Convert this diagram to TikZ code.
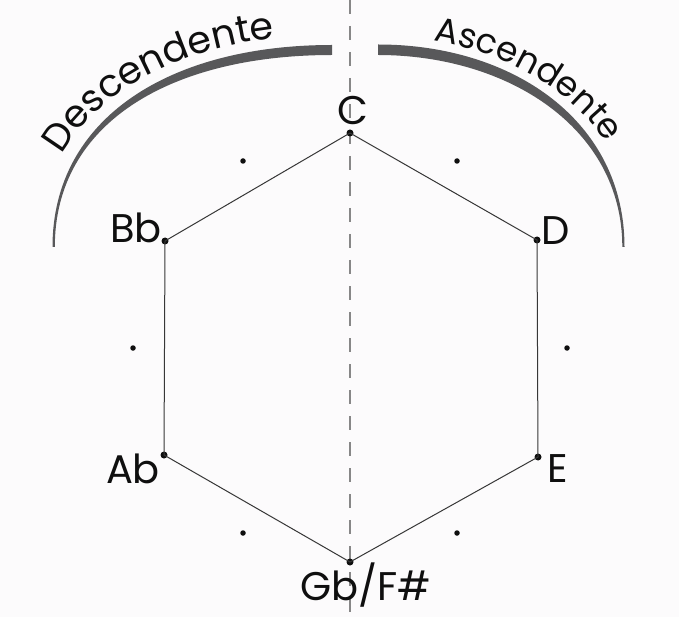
\documentclass[tikz,border=0pt]{standalone}
\usepackage{fontspec}
\setmainfont{Poppins}
\usetikzlibrary{decorations.text}
\definecolor{arcgray}{RGB}{88,88,90}
\definecolor{edgegray}{RGB}{55,55,55}
\definecolor{dashgray}{RGB}{135,135,135}
\definecolor{bgwhite}{RGB}{252,251,252}
\definecolor{inkblack}{RGB}{15,15,15}
\tikzset{
  vdot/.style={circle, fill=inkblack, inner sep=0pt, minimum size=7pt},
  sdot/.style={circle, fill=inkblack, inner sep=0pt, minimum size=5.5pt},
  lab/.style={anchor=base, inner sep=0pt, text=inkblack, font=\fontsize{40}{40}\selectfont},
  edge/.style={draw=edgegray, line width=1pt},
  arcband/.style={fill=arcgray},
}
\begin{document}
\begin{tikzpicture}[x=1pt,y=-1pt]
\useasboundingbox (0,0) rectangle (679,617);
\fill[bgwhite] (0,0) rectangle (679,617);

% dashed axis
\coordinate (axtop) at (350,0);
\coordinate (axbot) at (350,617);
\draw[dashgray, line width=1.2pt, dash pattern=on 14pt off 12pt] (axtop) -- (axbot);

% arcs
\fill[arcband] (52.5,247) .. controls (52.5,118) and (170,45) .. (332,45)
   -- (332,55) .. controls (172,55) and (54.8,122) .. (54.8,247) -- cycle;
\fill[arcband] (378,44.5) .. controls (513,44.5) and (624.5,121) .. (624.5,247)
   -- (622.3,247) .. controls (622.3,128) and (508,55) .. (378,55) -- cycle;

% curved labels
\path[decorate, decoration={text along path,
    text={|\fontsize{38}{38}\selectfont\color{inkblack}|Descendente},
    text align={left indent=96pt}}]
  (38,247) .. controls (38,111) and (168,35) .. (332,35);
\path[decorate, decoration={text along path,
    text={|\fontsize{34.5}{34.5}\selectfont\color{inkblack}|Ascendente},
    text align={left indent=56pt}}]
  (378,36) .. controls (516,36) and (638,119) .. (638,247);

% hexagon vertices
\node[vdot] (C)  at (350,133) {};
\node[vdot] (D)  at (537,240) {};
\node[vdot] (E)  at (538,457) {};
\node[vdot] (G)  at (350,562) {};
\node[vdot] (Ab) at (164,455) {};
\node[vdot] (Bb) at (165,241) {};

\draw[edge] (C.center) -- (D.center) -- (E.center) -- (G.center) -- (Ab.center) -- (Bb.center) -- (C.center);

% midpoint dots
\node[sdot] (m1) at (243,161) {};
\node[sdot] (m2) at (457,161) {};
\node[sdot] (m3) at (567,348) {};
\node[sdot] (m4) at (457,533) {};
\node[sdot] (m5) at (243,533) {};
\node[sdot] (m6) at (133,348) {};

% labels
\node[lab] (lC)  at (353,125) {C};
\node[lab] (lD)  at (556,245) {D};
\node[lab] (lE)  at (558,482) {E};
\node[lab] (lG)  at (366,600) {Gb/F\#};
\node[lab] (lAb) at (133,483) {Ab};
\node[lab] (lBb) at (136,243) {Bb};
\end{tikzpicture}
\end{document}
